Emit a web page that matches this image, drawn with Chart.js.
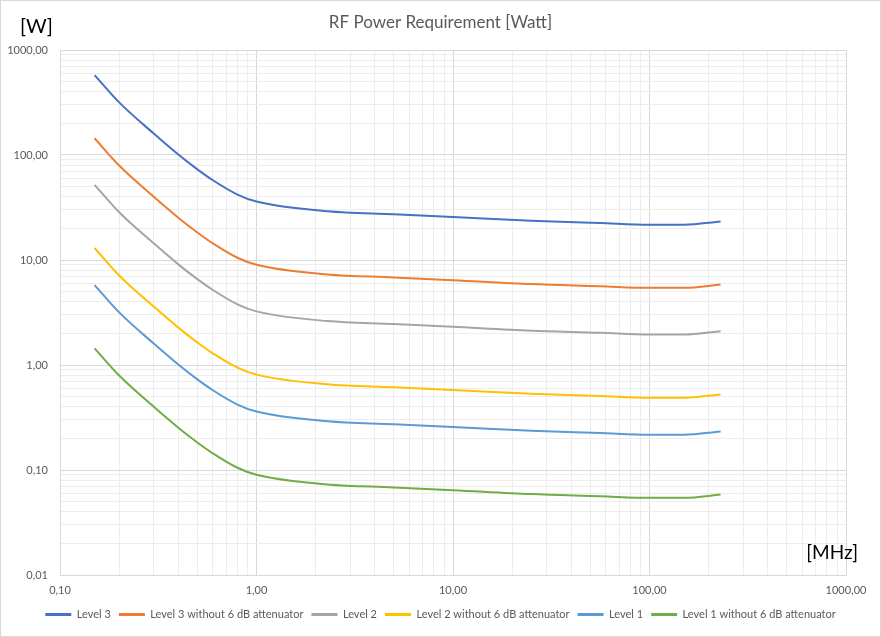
<!DOCTYPE html>
<html>
<head>
<meta charset="utf-8">
<script src="https://cdn.jsdelivr.net/npm/chart.js@4/dist/chart.umd.min.js"></script>
<style>
	body { margin: 0; background: #fff; }
	canvas { display: block; }
</style>
</head>
<body>
<canvas id="rf_power_chart" width="881" height="637"></canvas>
<script>
// frequency points [MHz]
const freqs = [0.15, 0.2, 0.3, 0.4, 0.5, 0.6, 0.8, 1, 2.3, 5, 10, 25, 56, 100, 150, 230];

// power [W]
const level3 = [577, 317, 160, 101, 73, 57.5, 42, 36, 29.1, 27.3, 25.7, 23.6, 22.5, 21.7, 21.7, 23.3];
const level3_no_att = [144.3, 79.3, 40, 25.3, 18.3, 14.4, 10.5, 9, 7.28, 6.83, 6.43, 5.9, 5.63, 5.43, 5.43, 5.83];
const level2 = [51.9, 28.5, 14.4, 9.09, 6.57, 5.18, 3.78, 3.24, 2.62, 2.46, 2.31, 2.12, 2.03, 1.95, 1.95, 2.1];
const level2_no_att = [13.0, 7.13, 3.6, 2.27, 1.64, 1.29, 0.945, 0.81, 0.655, 0.614, 0.578, 0.531, 0.506, 0.488, 0.488, 0.524];
const level1 = [5.77, 3.17, 1.6, 1.01, 0.73, 0.575, 0.42, 0.36, 0.291, 0.273, 0.257, 0.236, 0.225, 0.217, 0.217, 0.233];
const level1_no_att = [1.44, 0.793, 0.4, 0.253, 0.183, 0.144, 0.105, 0.09, 0.0728, 0.0683, 0.0643, 0.059, 0.0563, 0.0543, 0.0543, 0.0583];

const series_labels = [
	"Level 3",
	"Level 3 without 6 dB attenuator",
	"Level 2",
	"Level 2 without 6 dB attenuator",
	"Level 1",
	"Level 1 without 6 dB attenuator",
];
const series_colors = ["#4472C4", "#ED7D31", "#A5A5A5", "#FFC000", "#5B9BD5", "#70AD47"];
const series_values = [level3, level3_no_att, level2, level2_no_att, level1, level1_no_att];

const FONT = "Lato";
const TEXT_GREY = "#595959";

isDecade = (v) => {
	const l = Math.log10(v);
	return Math.abs(l - Math.round(l)) < 1e-6;
};

logTicks = (minExp, maxExp) => {
	let ticks = [];
	for (let e = minExp; e < maxExp; e++) {
		for (let m = 1; m <= 9; m++) {
			ticks.push({ value: m * Math.pow(10, e) });
		}
	}
	ticks.push({ value: Math.pow(10, maxExp) });
	return ticks;
};

fmt = (v) => (isDecade(v) ? v.toFixed(2).replace(".", ",") : "");

const gridColor = (ctx) => (ctx.tick && isDecade(ctx.tick.value) ? "#d9d9d9" : "#ededed");

const unitLabels = {
	id: "unitLabels",
	beforeDraw: (chart) => {
		const c = chart.ctx;
		c.save();
		c.fillStyle = "#fff";
		c.fillRect(0, 0, chart.width, chart.height);
		c.strokeStyle = "#d9d9d9";
		c.lineWidth = 1;
		c.strokeRect(0.5, 0.5, chart.width - 1, chart.height - 1);
		c.restore();
	},
	afterDraw: (chart) => {
		const c = chart.ctx;
		c.save();
		c.fillStyle = "#000";
		c.textBaseline = "middle";
		c.font = "20px " + FONT;
		c.textAlign = "left";
		c.fillText("[W]", 20, 27);
		c.font = "19px " + FONT;
		c.textAlign = "right";
		c.fillText("[MHz]", 858, 553);
		c.restore();
	},
};

drawChart = (canvas) => {
	const datasets = series_values.map((vals, i) => ({
		label: series_labels[i],
		data: vals.map((v, j) => ({ x: freqs[j], y: v })),
		borderColor: series_colors[i],
		backgroundColor: series_colors[i],
		borderWidth: 2,
		pointRadius: 0,
		cubicInterpolationMode: "monotone",
	}));

	const myChart = new Chart(canvas, {
		type: "line",
		data: { datasets: datasets },
		plugins: [unitLabels],
		options: {
			responsive: false,
			animation: false,
			layout: { padding: { left: 0, right: 0, top: 0, bottom: 7 } },
			scales: {
				x: {
					type: "logarithmic",
					min: 0.1,
					max: 1000,
					afterBuildTicks: (scale) => {
						scale.ticks = logTicks(-1, 3);
					},
					afterFit: (scale) => {
						scale.height = 26;
					},
					grid: { color: gridColor, drawTicks: false },
					border: { color: "#d9d9d9" },
					ticks: {
						autoSkip: false,
						maxRotation: 0,
						padding: 9,
						color: TEXT_GREY,
						font: { family: FONT, size: 11 },
						callback: (v) => fmt(v),
					},
				},
				y: {
					type: "logarithmic",
					min: 0.01,
					max: 1000,
					afterBuildTicks: (scale) => {
						scale.ticks = logTicks(-2, 3);
					},
					afterFit: (scale) => {
						scale.width = 60;
					},
					grid: { color: gridColor, drawTicks: false },
					border: { color: "#d9d9d9" },
					ticks: {
						autoSkip: false,
						padding: 12,
						color: TEXT_GREY,
						font: { family: FONT, size: 11 },
						callback: (v) => fmt(v),
					},
				},
				// empty right margin so the plot ends at 1000 MHz
				yRight: {
					position: "right",
					grid: { display: false },
					border: { display: false },
					ticks: { display: false },
					afterFit: (scale) => {
						scale.width = 35;
					},
				},
			},
			plugins: {
				title: {
					display: true,
					text: "RF Power Requirement [Watt]",
					color: TEXT_GREY,
					font: { family: FONT, size: 17, weight: "normal" },
					padding: { top: 12, bottom: 17.6 },
				},
				legend: {
					position: "bottom",
					labels: {
						color: TEXT_GREY,
						font: { family: FONT, size: 11 },
						boxWidth: 26,
						boxHeight: 3,
						padding: 8,
						generateLabels: (chart) =>
							Chart.defaults.plugins.legend.labels.generateLabels(chart).map((item) => {
								item.lineWidth = 0;
								item.fillStyle = item.strokeStyle;
								return item;
							}),
					},
				},
				tooltip: { enabled: false },
			},
		},
	});
};

drawChart(document.querySelector("#rf_power_chart"));
</script>
</body>
</html>
